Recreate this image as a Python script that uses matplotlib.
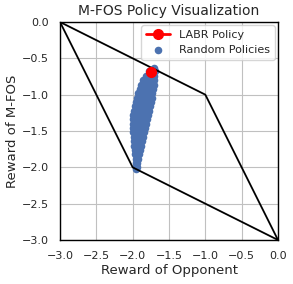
import numpy as np
import matplotlib
matplotlib.use("Agg")
import matplotlib.pyplot as plt
import seaborn as sns

sns.set_theme(style="whitegrid")

# feasible payoff region (opponent reward, M-FOS reward)
region_x = [-3, -1, 0, -2, -3]
region_y = [0, -1, -3, -2, 0]

# LABR policy result
labr_x = [-1.75]
labr_y = [-0.685]

# random policies
rand_x = [
    -1.70,
    -1.77, -1.72, -1.69,
    -1.82, -1.78, -1.74, -1.70,
    -1.86, -1.82, -1.78, -1.74, -1.70,
    -1.88, -1.84, -1.80, -1.76, -1.71,
    -1.90, -1.86, -1.82, -1.78, -1.74, -1.72,
    -1.92, -1.88, -1.84, -1.80, -1.76, -1.73,
    -1.935, -1.89, -1.85, -1.81, -1.77, -1.74,
    -1.95, -1.91, -1.87, -1.83, -1.79, -1.75,
    -1.965, -1.92, -1.88, -1.84, -1.80, -1.76,
    -1.98, -1.94, -1.90, -1.86, -1.82, -1.77,
    -1.99, -1.95, -1.91, -1.87, -1.83, -1.785,
    -2.00, -1.96, -1.92, -1.88, -1.84, -1.80,
    -2.00, -1.96, -1.92, -1.88, -1.84, -1.81,
    -1.995, -1.955, -1.915, -1.875, -1.83,
    -1.99, -1.95, -1.91, -1.875, -1.845,
    -1.985, -1.945, -1.905, -1.86,
    -1.98, -1.94, -1.90, -1.875,
    -1.975, -1.935, -1.89,
    -1.97, -1.93, -1.90,
    -1.965, -1.93, -1.91,
    -1.96, -1.925,
    -1.96, -1.935,
    -1.96, -1.945,
    -1.955,
]
rand_y = (
    [-0.63] * 1 + [-0.68] * 3 + [-0.74] * 4 + [-0.80] * 5 + [-0.86] * 5
    + [-0.92] * 6 + [-0.98] * 6 + [-1.04] * 6 + [-1.10] * 6 + [-1.16] * 6
    + [-1.22] * 6 + [-1.28] * 6 + [-1.34] * 6 + [-1.40] * 6 + [-1.46] * 5
    + [-1.52] * 5 + [-1.58] * 4 + [-1.64] * 4 + [-1.70] * 3 + [-1.76] * 3
    + [-1.82] * 3 + [-1.88] * 2 + [-1.94] * 2 + [-2.00] * 2 + [-2.02] * 1
)

fig = plt.figure(figsize=(2.93, 2.84), dpi=100)
ax = fig.add_axes([0.2048, 0.1549, 0.744, 0.7676])

sc = ax.scatter(rand_x, rand_y, s=30, color="#4c72b0", label="Random Policies", zorder=2, linewidths=0)
ax.plot(region_x, region_y, color="black", lw=1.3, zorder=3)
ln, = ax.plot(labr_x, labr_y, color="red", marker="o", markersize=7, lw=2, label="LABR Policy", zorder=4)

ax.set_xlim(-3, 0)
ax.set_ylim(-3, 0)
ax.set_xticks(np.arange(-3, 0.01, 0.5))
ax.set_yticks(np.arange(-3, 0.01, 0.5))
ax.tick_params(labelsize=8, pad=2)
ax.grid(True, color="#c0c0c0", lw=0.8)
for s in ax.spines.values():
    s.set_edgecolor("black")
    s.set_linewidth(1.0)

ax.set_xlabel("Reward of Opponent", fontsize=9.5, labelpad=2)
ax.set_ylabel("Reward of M-FOS", fontsize=9.5, labelpad=2)
ax.set_title("M-FOS Policy Visualization", fontsize=10, pad=5)
ax.legend(handles=[ln, sc], loc="upper right", fontsize=8, borderaxespad=0.3, handlelength=2.2)

fig.savefig("out.png", dpi=100)
